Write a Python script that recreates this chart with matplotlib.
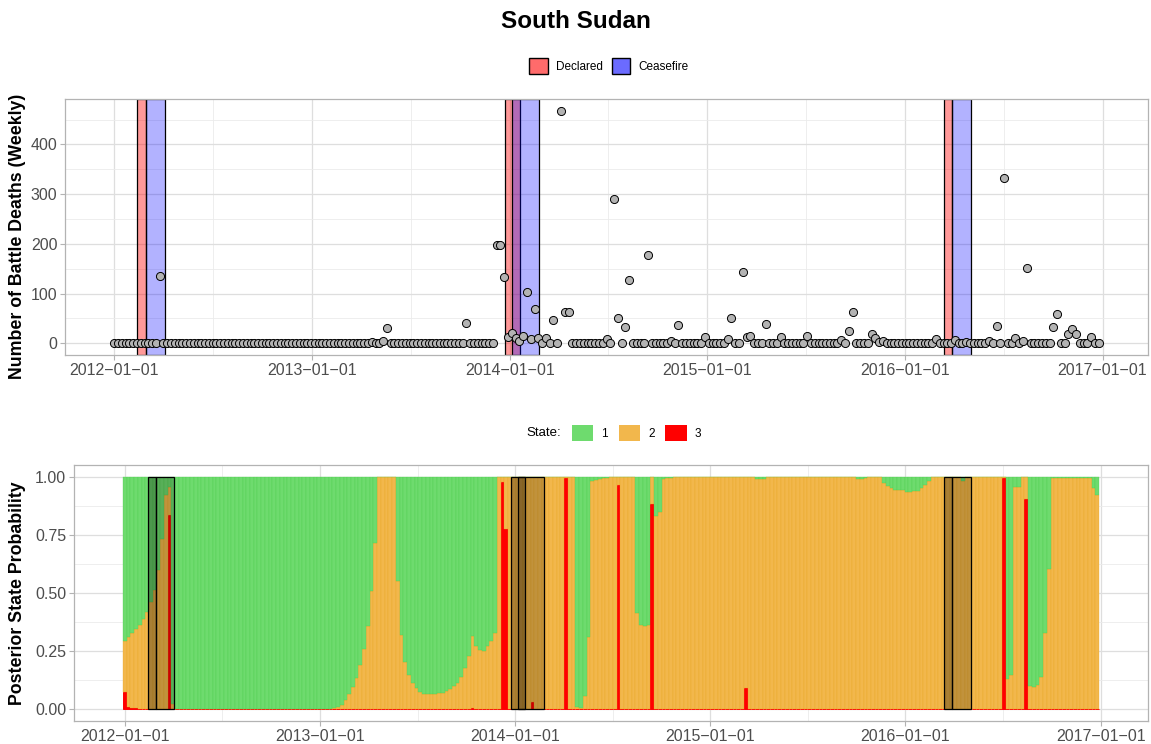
import numpy as np
import pandas as pd
import matplotlib
matplotlib.use("Agg")
import matplotlib.pyplot as plt
import matplotlib.dates as mdates
import matplotlib.ticker as mticker
from matplotlib.patches import Patch

plt.rcParams['font.family'] = ['Liberation Sans', 'DejaVu Sans']

## Weekly series, 2012-01-01 .. 2016-12-25
weeks = pd.date_range("2012-01-01", periods=261, freq="7D")

deaths = [
    0, 0, 0, 0, 0, 0, 0, 0, 0, 0, 0, 0, 136, 0, 0, 0, 0, 0, 0, 0,
    0, 0, 0, 0, 0, 0, 0, 0, 0, 0, 0, 0, 0, 0, 0, 0, 0, 0, 0, 0,
    0, 0, 0, 0, 0, 0, 0, 0, 0, 0, 0, 0, 0, 0, 0, 0, 0, 0, 0, 0,
    0, 0, 0, 0, 0, 0, 0, 0, 2, 0, 0, 5, 30, 0, 0, 0, 0, 0, 0, 0,
    0, 0, 0, 0, 0, 0, 0, 0, 0, 0, 0, 0, 0, 40, 0, 0, 0, 0, 0, 0,
    0, 197, 197, 134, 13, 20, 11, 5, 15, 103, 8, 70, 11, 0, 10, 0, 46, 0, 468, 63,
    63, 0, 0, 0, 0, 0, 0, 0, 0, 0, 8, 0, 291, 51, 0, 32, 128, 0, 0, 0,
    0, 178, 0, 0, 0, 0, 0, 5, 0, 36, 0, 0, 0, 0, 0, 0, 13, 0, 0, 0,
    0, 0, 9, 52, 0, 0, 144, 13, 15, 0, 0, 0, 38, 0, 0, 0, 13, 0, 0, 0,
    0, 0, 0, 15, 0, 0, 0, 0, 0, 0, 0, 0, 7, 0, 24, 63, 0, 0, 0, 0,
    19, 10, 2, 5, 0, 0, 0, 0, 0, 0, 0, 0, 0, 0, 0, 0, 0, 8, 0, 0,
    0, 0, 7, 0, 0, 3, 0, 0, 0, 0, 0, 5, 0, 34, 0, 332, 0, 0, 11, 0,
    5, 152, 0, 0, 0, 0, 0, 0, 32, 60, 0, 0, 18, 28, 18, 0, 0, 0, 13, 0,
    0,
]

# posterior probability of state 3 (red) and state 2 (orange); state 1 is the rest
p_state3 = [
    0.074, 0.01, 0.005, 0.005, 0, 0, 0, 0, 0, 0, 0, 0, 0.835, 0, 0, 0, 0, 0, 0, 0,
    0, 0, 0, 0, 0, 0, 0, 0, 0, 0, 0, 0, 0, 0, 0, 0, 0, 0, 0, 0,
    0, 0, 0, 0, 0, 0, 0, 0, 0, 0, 0, 0, 0, 0, 0, 0, 0, 0, 0, 0,
    0, 0, 0, 0, 0, 0, 0, 0, 0, 0, 0, 0, 0, 0, 0, 0, 0, 0, 0, 0,
    0, 0, 0, 0, 0, 0, 0, 0, 0, 0, 0, 0, 0, 0.005, 0, 0, 0, 0, 0, 0,
    0, 0.977, 0.775, 0, 0, 0, 0, 0, 0, 0.032, 0, 0, 0, 0, 0, 0, 0, 0, 0.994, 0,
    0, 0, 0, 0, 0, 0, 0, 0, 0, 0, 0, 0, 0.964, 0, 0, 0, 0, 0, 0, 0,
    0, 0.882, 0, 0, 0, 0, 0, 0, 0, 0, 0, 0, 0, 0, 0, 0, 0, 0, 0, 0,
    0, 0, 0, 0, 0, 0, 0.092, 0, 0, 0, 0, 0, 0, 0, 0, 0, 0, 0, 0, 0,
    0, 0, 0, 0, 0, 0, 0, 0, 0, 0, 0, 0, 0, 0, 0, 0, 0, 0, 0, 0,
    0, 0, 0, 0, 0, 0, 0, 0, 0, 0, 0, 0, 0, 0, 0, 0, 0, 0, 0, 0,
    0, 0, 0, 0, 0, 0, 0, 0, 0, 0, 0, 0, 0, 0, 0, 0.995, 0, 0, 0, 0,
    0, 0.904, 0, 0, 0, 0, 0, 0, 0, 0, 0, 0, 0, 0, 0, 0, 0, 0, 0, 0,
    0,
]

p_state2 = [
    0.221, 0.30, 0.325, 0.34, 0.362, 0.388, 0.42, 0.463, 0.511, 0.60, 0.732, 0.92, 0.12, 0.023, 0, 0, 0, 0, 0, 0,
    0, 0, 0, 0, 0, 0, 0, 0, 0, 0, 0, 0, 0, 0, 0, 0, 0, 0, 0, 0,
    0, 0, 0, 0, 0, 0, 0, 0, 0, 0, 0, 0, 0, 0, 0, 0, 0.005, 0.01, 0.02, 0.04,
    0.065, 0.095, 0.135, 0.19, 0.26, 0.36, 0.51, 0.713, 1.0, 1.0, 1.0, 1.0, 1.0, 0.55, 0.32, 0.203, 0.148, 0.112, 0.093, 0.076,
    0.066, 0.064, 0.065, 0.066, 0.07, 0.072, 0.079, 0.087, 0.099, 0.115, 0.139, 0.176, 0.229, 0.31, 0.272, 0.254, 0.252, 0.272, 0.294, 0.33,
    1.0, 0.023, 0.225, 1.0, 1.0, 1.0, 1.0, 1.0, 1.0, 0.968, 1.0, 1.0, 1.0, 1.0, 1.0, 1.0, 1.0, 1.0, 0.006, 1.0,
    1.0, 0.01, 0.006, 0.059, 0.312, 0.983, 0.985, 0.99, 0.993, 0.996, 1.0, 1.0, 0.036, 1.0, 1.0, 1.0, 1.0, 0.415, 0.364, 0.357,
    0.364, 0.118, 0.832, 0.85, 0.99, 0.995, 0.995, 1.0, 1.0, 1.0, 1.0, 1.0, 1.0, 1.0, 1.0, 1.0, 1.0, 1.0, 1.0, 1.0,
    1.0, 1.0, 1.0, 1.0, 1.0, 1.0, 0.908, 1.0, 1.0, 0.99, 0.99, 0.99, 1.0, 1.0, 1.0, 1.0, 1.0, 1.0, 1.0, 1.0,
    1.0, 1.0, 1.0, 1.0, 1.0, 1.0, 1.0, 1.0, 1.0, 1.0, 1.0, 1.0, 1.0, 1.0, 1.0, 1.0, 0.99, 0.99, 0.995, 1.0,
    1.0, 1.0, 1.0, 0.974, 0.96, 0.95, 0.943, 0.943, 0.943, 0.935, 0.935, 0.94, 0.94, 0.95, 0.964, 0.98, 1.0, 1.0, 1.0, 1.0,
    1.0, 1.0, 1.0, 1.0, 0.98, 1.0, 1.0, 1.0, 1.0, 1.0, 1.0, 1.0, 1.0, 1.0, 1.0, 0.005, 0.13, 0.148, 0.955, 0.955,
    1.0, 0.096, 0.1, 0.097, 0.105, 0.139, 0.328, 0.605, 0.995, 0.995, 0.995, 0.995, 0.995, 0.995, 0.995, 0.995, 0.995, 0.995, 0.995, 0.95,
    0.923,
]

## Conflict periods
declared_start = ["2012-02-13", "2013-12-23", "2016-03-13"]
declared_end = ["2012-02-28", "2014-01-20", "2016-03-28"]
ceasefire_start = ["2012-02-28", "2014-01-06", "2016-03-28"]
ceasefire_end = ["2012-04-03", "2014-02-24", "2016-05-02"]

year_breaks = pd.to_datetime(["2012-01-01", "2013-01-01", "2014-01-01",
                              "2015-01-01", "2016-01-01", "2017-01-01"])

W, H = 1151, 744
fig = plt.figure(figsize=(W / 100, H / 100), dpi=100)
ax1 = fig.add_axes([65 / W, 1 - 355 / H, (1148 - 65) / W, (355 - 99) / H])
ax2 = fig.add_axes([74 / W, 1 - 721 / H, (1148 - 74) / W, (721 - 465) / H])

tick_col = "#4D4D4D"


def light_theme(ax):
    ax.set_facecolor("white")
    for s in ax.spines.values():
        s.set_color("#B3B3B3")
        s.set_linewidth(0.9)
    ax.grid(which="major", color="#DEDEDE", linewidth=0.9)
    ax.grid(which="minor", color="#EBEBEB", linewidth=0.6)
    ax.set_axisbelow(True)
    ax.tick_params(which="major", length=3.5, width=0.8, color="#B3B3B3",
                   labelcolor=tick_col, labelsize=11.5, pad=2)
    ax.tick_params(which="minor", length=0)
    ax.xaxis.set_major_locator(mticker.FixedLocator(mdates.date2num(year_breaks)))
    mids = year_breaks[:-1] + (year_breaks[1:] - year_breaks[:-1]) / 2
    ax.xaxis.set_minor_locator(mticker.FixedLocator(mdates.date2num(mids)))
    ax.set_xticklabels([d.strftime("%Y\u2212%m\u2212%d") for d in year_breaks])


## Top panel: weekly battle deaths
for ds, de in zip(declared_start, declared_end):
    ax1.axvspan(pd.Timestamp(ds), pd.Timestamp(de), facecolor=(1, 0, 0, 0.4),
                edgecolor="black", linewidth=0.9, zorder=1)
for cs, ce in zip(ceasefire_start, ceasefire_end):
    ax1.axvspan(pd.Timestamp(cs), pd.Timestamp(ce), facecolor=(0, 0, 1, 0.3),
                edgecolor="black", linewidth=0.9, zorder=1)

ax1.scatter(weeks, deaths, s=34, facecolor="#B3B3B3", edgecolor="black",
            linewidth=0.7, zorder=3)

span = weeks[-1] - weeks[0]
ax1.set_xlim(weeks[0] - 0.05 * span, weeks[-1] + 0.05 * span)
ax1.set_ylim(-0.05 * max(deaths), 1.05 * max(deaths))
ax1.yaxis.set_major_locator(mticker.MultipleLocator(100))
ax1.yaxis.set_minor_locator(mticker.MultipleLocator(50))
light_theme(ax1)

## Bottom panel: posterior state probabilities
p3 = np.array(p_state3)
p2 = np.array(p_state2)
p1 = 1 - p2 - p3

ax2.bar(weeks, p3, width=7, color="#FF0000", edgecolor="#FF0000", linewidth=0.7, zorder=2)
ax2.bar(weeks, p2, bottom=p3, width=7, color="#F2B74C", edgecolor="#E8A21A",
        linewidth=0.2, zorder=2)
ax2.bar(weeks, p1, bottom=p3 + p2, width=7, color="#6EDB6E", edgecolor="#45CC45",
        linewidth=0.2, zorder=2)

for ds, de in zip(declared_start, declared_end):
    s, e = pd.Timestamp(ds), pd.Timestamp(de)
    ax2.bar(s, 1, width=(e - s).days, align="edge", facecolor=(0, 0, 0, 0.3),
            edgecolor="black", linewidth=0.9, zorder=3)
for cs, ce in zip(ceasefire_start, ceasefire_end):
    s, e = pd.Timestamp(cs), pd.Timestamp(ce)
    ax2.bar(s, 1, width=(e - s).days, align="edge", facecolor=(0, 0, 0, 0.2),
            edgecolor="black", linewidth=0.9, zorder=3)

lo = weeks[0] - pd.Timedelta(days=3.5)
hi = weeks[-1] + pd.Timedelta(days=3.5)
ax2.set_xlim(lo - 0.05 * (hi - lo), hi + 0.05 * (hi - lo))
ax2.set_ylim(-0.05, 1.05)
ax2.yaxis.set_major_locator(mticker.MultipleLocator(0.25))
ax2.yaxis.set_minor_locator(mticker.MultipleLocator(0.125))
ax2.yaxis.set_major_formatter(mticker.FormatStrFormatter("%.2f"))
light_theme(ax2)

## Titles, labels, legends
fig.text(0.5, 1 - 22 / H, "South Sudan", ha="center", va="center",
         fontsize=17.5, fontweight="bold")
fig.text(18 / W, 1 - 236 / H, "Number of Battle Deaths (Weekly)", rotation=90,
         ha="center", va="center", fontsize=12.8, fontweight="bold")
fig.text(18 / W, 1 - 593 / H, "Posterior State Probability", rotation=90,
         ha="center", va="center", fontsize=12.8, fontweight="bold")

h_top = [Patch(facecolor="#FF6B6B", edgecolor="black", label="Declared"),
         Patch(facecolor="#6B6BFF", edgecolor="black", label="Ceasefire")]
fig.legend(handles=h_top, loc="center", bbox_to_anchor=(609 / W, 1 - 66 / H),
           ncol=2, frameon=False, fontsize=8.5, handlelength=1.6, handleheight=1.8,
           handletextpad=0.7, columnspacing=0.7, borderpad=0)

h_bot = [Patch(facecolor="#6EDB6E", edgecolor="none", label="1"),
         Patch(facecolor="#F2B74C", edgecolor="none", label="2"),
         Patch(facecolor="#FF0000", edgecolor="none", label="3")]
fig.text(561 / W, 1 - 433 / H, "State:", ha="right", va="center", fontsize=9.5)
fig.legend(handles=h_bot, loc="center left", bbox_to_anchor=(566 / W, 1 - 433 / H),
           ncol=3, frameon=False, fontsize=8.5, handlelength=1.8, handleheight=1.6,
           handletextpad=0.7, columnspacing=0.9, borderpad=0)

fig.savefig("out.png", dpi=100)
